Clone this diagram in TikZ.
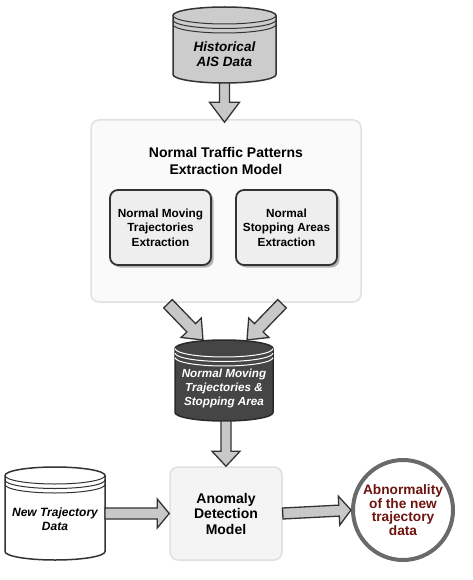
\documentclass[tikz,border=0pt]{standalone}
\usepackage{fontspec}
\setmainfont{Liberation Sans}
\usetikzlibrary{calc}
\definecolor{arrowfill}{HTML}{C8C8C8}
\definecolor{arrowline}{HTML}{333333}
\definecolor{boxline}{HTML}{333333}
\definecolor{boxfill}{HTML}{EEEEEE}
\definecolor{panelfill}{HTML}{FAFAFA}
\definecolor{panelline}{HTML}{E0E0E0}
\definecolor{histfill}{HTML}{CCCCCC}
\definecolor{darkfill}{HTML}{454545}
\definecolor{darkline}{HTML}{2A2A2A}
\definecolor{circline}{HTML}{6A6A6A}
\definecolor{redtext}{HTML}{6E1410}
\tikzset{
  fatarrowstyle/.style={fill=arrowfill, draw=arrowline, line width=1.3pt, line join=miter},
  shapenode/.style={inner sep=0pt, outer sep=0pt},
  cyltext/.style={align=center, font=\bfseries\itshape\fontsize{13.5}{15}\selectfont},
  darktext/.style={align=center, text=white, font=\bfseries\itshape\fontsize{11.7}{14}\selectfont},
  newtext/.style={align=center, font=\bfseries\itshape\fontsize{12}{14}\selectfont},
  panel/.style={draw=panelline, fill=panelfill, line width=1.5pt, rounded corners=8pt, inner sep=0pt},
  stepbox/.style={draw=boxline, fill=boxfill, line width=1.8pt, rounded corners=8pt, align=center,
    inner sep=0pt, font=\bfseries\fontsize{11.8}{14.5}\selectfont,
    preaction={fill=black!30, draw=none, transform canvas={shift={(2.5pt,-2.5pt)}}}},
  titletext/.style={align=center, font=\bfseries\fontsize{14}{17}\selectfont},
  anombox/.style={draw=panelline, fill=panelfill!70!white!97!black, line width=1.5pt, rounded corners=8pt,
    align=center, inner sep=0pt, font=\bfseries\fontsize{14}{15.5}\selectfont},
  resultnode/.style={circle, draw=circline, fill=white, line width=4pt, minimum size=100pt, inner sep=0pt,
    align=center, text=redtext, font=\bfseries\fontsize{13.7}{13.8}\selectfont},
}
\newcommand\fatarrow[5]{%
  \coordinate (fa-h) at ($(#2)!#5!(#1)$);
  \draw[fatarrowstyle] ($(#1)!#3!90:(#2)$) -- ($(fa-h)!#3!-90:(#1)$) -- ($(fa-h)!#4!-90:(#1)$) -- (#2)
    -- ($(fa-h)!#4!90:(#1)$) -- ($(fa-h)!#3!90:(#1)$) -- ($(#1)!#3!-90:(#2)$) -- cycle;}
\newcommand\cylshape[4]{%
  \draw[fill=#2, draw=#3, line width=1.5pt] let \p1=(#1.north west), \p2=(#1.south east), \n1={(\x2-\x1)/2} in
    (\x1,\y1-8.5pt) -- (\x1,\y2+8.5pt) arc[start angle=180,end angle=360,x radius=\n1,y radius=8.5pt]
    -- (\x2,\y1-8.5pt) arc[start angle=0,end angle=180,x radius=\n1,y radius=8.5pt] -- cycle;
  \draw[draw=#4, line width=1pt] let \p1=(#1.north west), \p2=(#1.south east), \n1={(\x2-\x1)/2} in
    (\x1,\y1-8.5pt) arc[start angle=180,end angle=360,x radius=\n1,y radius=8.5pt]
    (\x1,\y1-13pt) arc[start angle=180,end angle=360,x radius=\n1,y radius=8.5pt]
    (\x1,\y1-17.5pt) arc[start angle=180,end angle=360,x radius=\n1,y radius=8.5pt];}
\begin{document}
\begin{tikzpicture}[x=1pt,y=1pt]
\useasboundingbox (0,0) rectangle (473,-580);
% top database
\node[shapenode, minimum width=103pt, minimum height=76pt] (hist) at (224.5,-45) {};
\cylshape{hist}{histfill}{boxline}{boxline}
\node[cyltext] (histtxt) at (224.5,-54) {Historical\\AIS Data};
% extraction panel
\node[panel, minimum width=270pt, minimum height=182pt] (bigbox) at (226,-211) {};
\node[titletext] (title) at (226,-161) {Normal Traffic Patterns\\Extraction Model};
\node[stepbox, minimum width=101pt, minimum height=75pt] (nm) at (160.5,-227.5) {Normal Moving\\Trajectories\\Extraction};
\node[stepbox, minimum width=101pt, minimum height=75pt] (ns) at (286.5,-227.5) {Normal\\Stopping Areas\\Extraction};
% dark database
\node[shapenode, minimum width=98pt, minimum height=81pt] (dark) at (224,-380.5) {};
\cylshape{dark}{darkfill}{darkline}{white}
\node[darktext] (darktxt) at (224,-388) {Normal Moving\\Trajectories \&\\Stopping Area};
% new data
\node[shapenode, minimum width=100pt, minimum height=93pt] (newt) at (55,-513.5) {};
\cylshape{newt}{white}{boxline}{boxline}
\node[newtext] (newttxt) at (55,-519) {New Trajectory\\Data};
% anomaly detection
\node[anombox, minimum width=112pt, minimum height=93pt] (anom) at (226,-513.5) {Anomaly\\Detection\\Model};
% result
\node[resultnode] (circ) at (403,-510) {Abnormality\\of the new\\trajectory\\data};
% arrows
\coordinate (a1e) at ($(hist.south |- bigbox.north)+(0,-3)$);
\fatarrow{hist.south}{a1e}{5pt}{15pt}{20pt}
\coordinate (a2s) at ($(bigbox.south)+(-58,-1)$);
\coordinate (a2e) at ($(dark.north)+(-21,0)$);
\fatarrow{a2s}{a2e}{6pt}{14pt}{17pt}
\coordinate (a3s) at ($(bigbox.south)+(56,-1)$);
\coordinate (a3e) at ($(dark.north)+(23,0)$);
\fatarrow{a3s}{a3e}{6pt}{14pt}{17pt}
\coordinate (a4s) at (dark.south -| anom.north);
\fatarrow{a4s}{anom.north}{5pt}{14pt}{15pt}
\fatarrow{newt.east}{anom.west}{5.5pt}{14.5pt}{12pt}
\fatarrow{anom.east}{circ.west}{5.5pt}{14.5pt}{12pt}
\end{tikzpicture}
\end{document}
